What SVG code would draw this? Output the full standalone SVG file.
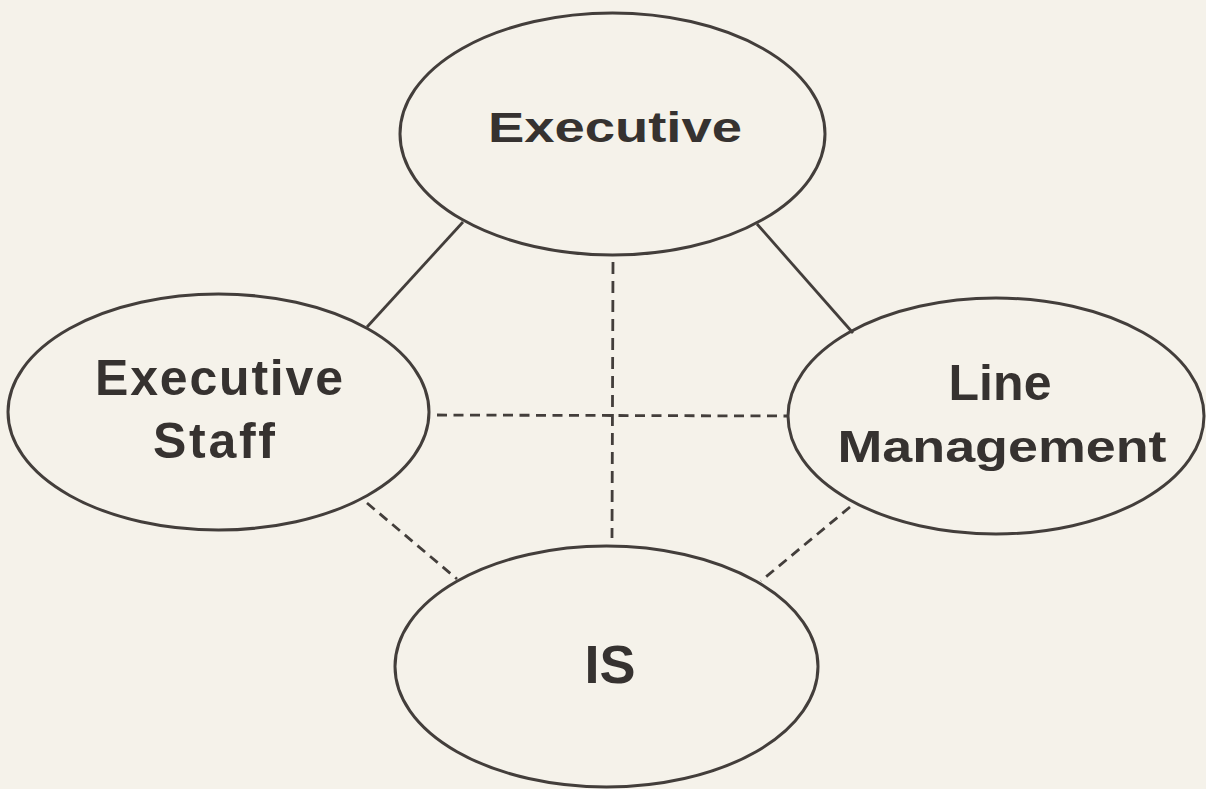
<svg xmlns="http://www.w3.org/2000/svg" width="1206" height="789" viewBox="0 0 1206 789">
  <style>
    .node ellipse { fill: none; stroke: #433e3b; stroke-width: 3; }
    .node text { font-family: "Liberation Sans", Arial, sans-serif; font-weight: bold; fill: #363230; text-anchor: middle; }
    .solid { stroke: #433e3b; stroke-width: 2.8; fill: none; }
    .dashed { stroke: #433e3b; stroke-width: 2.8; fill: none; stroke-dasharray: 10 6.5; }
    .dashed.v { stroke-dasharray: 12 7; }
  </style>
  <rect width="1206" height="789" fill="#f5f2ea"/>

  <!-- connectors -->
  <g id="connectors">
    <line class="solid" x1="463" y1="222" x2="367" y2="327"/>
    <line class="solid" x1="757" y1="224" x2="853" y2="333"/>
    <line class="dashed v" x1="613" y1="262" x2="612" y2="538"/>
    <line class="dashed" x1="437" y1="415" x2="788" y2="416"/>
    <line class="dashed" x1="367" y1="503" x2="457" y2="579"/>
    <line class="dashed" x1="850" y1="507" x2="761" y2="581"/>
  </g>

  <g id="executive" class="node">
    <ellipse cx="612.5" cy="134" rx="212.5" ry="121"/>
    <text x="615" y="142" font-size="42" textLength="254" lengthAdjust="spacingAndGlyphs">Executive</text>
  </g>

  <g id="executive-staff" class="node">
    <ellipse cx="218.5" cy="412" rx="210.5" ry="118"/>
    <text x="219" y="395" font-size="50" textLength="248" lengthAdjust="spacing">Executive</text>
    <text x="214" y="458" font-size="50" textLength="122" lengthAdjust="spacing">Staff</text>
  </g>

  <g id="line-management" class="node">
    <ellipse cx="996" cy="416" rx="208" ry="118"/>
    <text x="1000" y="400" font-size="50" textLength="103" lengthAdjust="spacing">Line</text>
    <text x="1002" y="462" font-size="44" textLength="329" lengthAdjust="spacingAndGlyphs">Management</text>
  </g>

  <g id="is" class="node">
    <ellipse cx="606.5" cy="666.5" rx="211.5" ry="120.5"/>
    <text x="610" y="683" font-size="54">IS</text>
  </g>
</svg>
